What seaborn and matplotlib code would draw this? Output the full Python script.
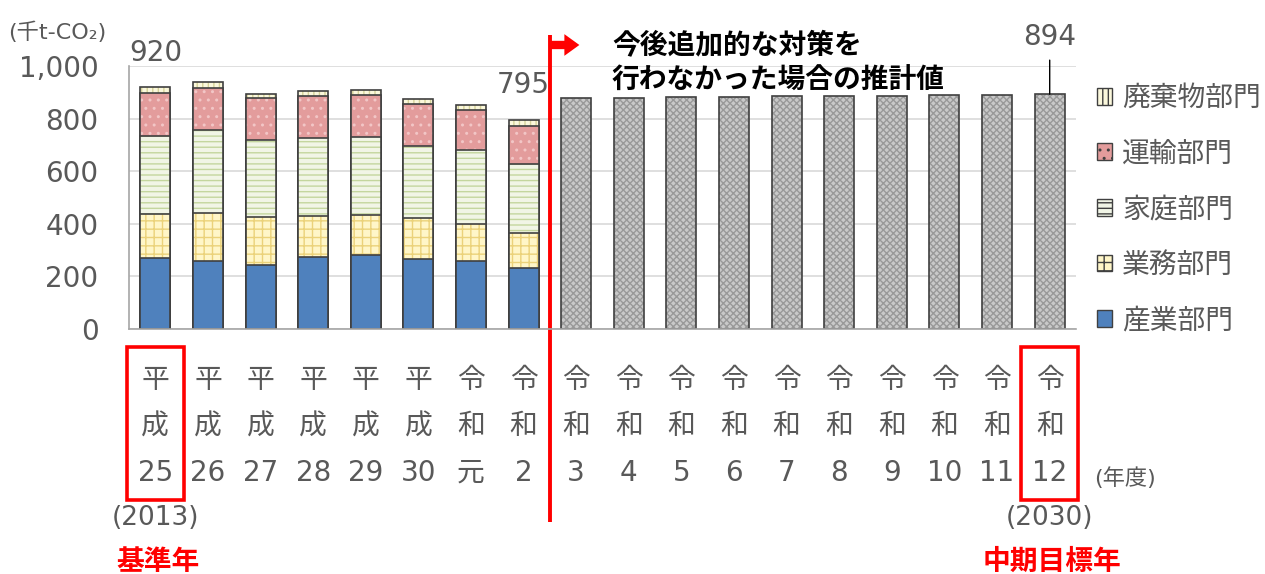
import numpy as np
import pandas as pd
import matplotlib
matplotlib.use("Agg")
import matplotlib.pyplot as plt
from matplotlib.patches import Patch, Rectangle
import matplotlib.transforms as mtransforms
import seaborn as sns

# 年度ラベル（縦書き）
actual_labels = ['平\n成\n25', '平\n成\n26', '平\n成\n27', '平\n成\n28',
                 '平\n成\n29', '平\n成\n30', '令\n和\n元', '令\n和\n2']
future_labels = ['令\n和\n3', '令\n和\n4', '令\n和\n5', '令\n和\n6', '令\n和\n7',
                 '令\n和\n8', '令\n和\n9', '令\n和\n10', '令\n和\n11', '令\n和\n12']
all_labels = actual_labels + future_labels

# 部門別排出量 (千t-CO2)
industry = [269, 257, 244, 273, 279, 267, 257, 229]
business = [167, 185, 181, 155, 155, 156, 141, 134]
household = [297, 314, 293, 298, 296, 274, 282, 264]
transport = [167, 162, 160, 163, 163, 160, 155, 145]
waste = [20, 22, 17, 18, 18, 19, 19, 23]

# 今後追加的な対策を行わなかった場合の推計値
projected = [878, 880, 882, 884, 886, 887, 889, 891, 892, 894]

sectors = ['産業部門', '業務部門', '家庭部門', '運輸部門', '廃棄物部門']

df = pd.DataFrame({'year': actual_labels, '産業部門': industry, '業務部門': business,
                   '家庭部門': household, '運輸部門': transport, '廃棄物部門': waste})
df_future = pd.DataFrame({'year': future_labels, 'total': projected})

styles = {
    '産業部門': dict(face='#4F81BD', hatch=None, hcol='#4F81BD'),
    '業務部門': dict(face='#FFF6C8', hatch='++', hcol='#EBD27A'),
    '家庭部門': dict(face='#F1F5E6', hatch='---', hcol='#C4D69E'),
    '運輸部門': dict(face='#E39C9C', hatch='..', hcol='#F2C6C6'),
    '廃棄物部門': dict(face='#FBF8DC', hatch='|||', hcol='#D6D39A'),
}
edge = '#404040'
grey_txt = '#595959'
red = '#FF0000'

sns.set_theme(style='white')
plt.rcParams['font.family'] = ['DejaVu Sans', 'Noto Sans CJK JP']
plt.rcParams['hatch.linewidth'] = 1.0
cjk = ['Noto Sans CJK JP', 'DejaVu Sans']

fig = plt.figure(figsize=(12.65, 5.74), dpi=100)
ax = fig.add_axes([0.102, 0.4277, 0.7486, 0.4565])

W = 0.57


def draw_layer(x, y, face, hatch, hcol):
    n0 = len(ax.patches)
    sns.barplot(x=x, y=y, order=all_labels, color=face, saturation=1, width=W,
                errorbar=None, ax=ax, linewidth=0)
    for p in ax.patches[n0:]:
        p.set_facecolor(face)
        if hatch:
            p.set_hatch(hatch)
            p.set_edgecolor(hcol)
        p.set_linewidth(0)
    n1 = len(ax.patches)
    sns.barplot(x=x, y=y, order=all_labels, color=face, saturation=1, width=W,
                errorbar=None, ax=ax)
    for p in ax.patches[n1:]:
        p.set_facecolor('none')
        p.set_edgecolor(edge)
        p.set_linewidth(1.2)


# 積み上げ：累積値を上の層から描画
cum = df[sectors].cumsum(axis=1)
for s in reversed(sectors):
    st = styles[s]
    draw_layer(df['year'], cum[s], st['face'], st['hatch'], st['hcol'])

# 推計値（灰色）
draw_layer(df_future['year'], df_future['total'], '#C9C9C9', 'xxxxx', '#999999')

ax.set_xlim(-0.5, len(all_labels) - 0.5)
ax.set_ylim(0, 1000)
ax.set_yticks(np.arange(0, 1001, 200))
ax.yaxis.set_major_formatter(plt.FuncFormatter(lambda v, _: '{:,.0f}'.format(v)))
ax.set_xticks(range(len(all_labels)))
ax.set_xticklabels(all_labels, linespacing=1.83)
ax.set_xlabel('')
ax.set_ylabel('')
ax.set_axisbelow(True)
ax.yaxis.grid(True, color='#D9D9D9', lw=1.2)
ax.xaxis.grid(False)
for side in ['top', 'right']:
    ax.spines[side].set_visible(False)
for side in ['left', 'bottom']:
    ax.spines[side].set_color('#A6A6A6')
    ax.spines[side].set_linewidth(1.2)
ax.set_xticks(np.arange(-0.5, len(all_labels), 1), minor=True)
ax.tick_params(axis='x', which='major', length=0, pad=27, labelsize=20, labelcolor=grey_txt)
ax.tick_params(axis='x', which='minor', direction='in', length=6, color='#A6A6A6', width=1.2)
ax.tick_params(axis='y', direction='in', length=6, color='#A6A6A6', width=1.2,
               labelsize=20, labelcolor=grey_txt, pad=22)

# データラベル
totals = cum['廃棄物部門'].tolist()
ax.annotate(f'{totals[0]:,}', xy=(0, totals[0]), xytext=(0, 25), textcoords='offset points',
            ha='center', va='center', fontsize=20, color=grey_txt)
ax.annotate(f'{totals[-1]:,}', xy=(len(actual_labels) - 1, totals[-1]), xytext=(0, 25),
            textcoords='offset points', ha='center', va='center', fontsize=20, color=grey_txt)
last = len(all_labels) - 1
ax.annotate(f'{projected[-1]:,}', xy=(last, projected[-1]), xytext=(0, 41),
            textcoords='offset points', ha='center', va='center', fontsize=20, color=grey_txt,
            arrowprops=dict(arrowstyle='-', color='black', lw=1, shrinkA=4, shrinkB=0))

trans = mtransforms.blended_transform_factory(ax.transData, ax.transAxes)

# 区切り線と矢印
split = len(actual_labels) - 0.5
ax.plot([split, split], [1.12, -0.737], transform=trans, color=red, lw=2.8,
        clip_on=False, solid_capstyle='butt')
ax.annotate('', xy=(split + 0.56, 1.082), xytext=(split, 1.082), xycoords=trans,
            textcoords=trans,
            arrowprops=dict(arrowstyle='simple,head_length=0.9,head_width=1.3,tail_width=0.5',
                            color=red, lw=0, shrinkA=0, shrinkB=0), annotation_clip=False)
ax.text(split + 1.18, 1.13, '今後追加的な対策を\n行わなかった場合の推計値', transform=trans,
        ha='left', va='top', fontsize=20, fontweight='bold', color='black', linespacing=1.3,
        family=cjk)

# 基準年・目標年の枠
for i in [0, last]:
    ax.add_patch(Rectangle((i - 0.54, -0.655), 1.08, 0.586, transform=trans, fill=False,
                           edgecolor=red, lw=2.6, clip_on=False))

ax.text(0, -0.723, '(2013)', transform=trans, ha='center', va='center', fontsize=19, color=grey_txt)
ax.text(last, -0.723, '(2030)', transform=trans, ha='center', va='center', fontsize=19, color=grey_txt)
ax.text(0.06, -0.89, '基準年', transform=trans, ha='center', va='center', fontsize=20,
        fontweight='bold', color=red, family=cjk)
ax.text(last + 0.05, -0.89, '中期目標年', transform=trans, ha='center', va='center', fontsize=20,
        fontweight='bold', color=red, family=cjk)
ax.text(last + 1.43, -0.571, '(年度)', transform=trans, ha='center', va='center', fontsize=16,
        color=grey_txt)
fig.text(0.0063, 0.944, '(千t-CO₂)', ha='left', va='center', fontsize=16, color=grey_txt)

# 凡例
handles = []
for s in reversed(sectors):
    st = styles[s]
    handles.append(Patch(facecolor=st['face'], edgecolor=edge, hatch=st['hatch'], lw=1))
leg = ax.legend(handles, list(reversed(sectors)), loc='upper left',
                bbox_to_anchor=(1086 / 1265, 1 - 72 / 574), bbox_transform=fig.transFigure,
                frameon=False, prop={'family': cjk, 'size': 20}, labelcolor=grey_txt,
                handlelength=0.55, handleheight=0.55, handletextpad=0.35, labelspacing=0.92,
                borderaxespad=0)

fig.savefig('out.png', dpi=100)
